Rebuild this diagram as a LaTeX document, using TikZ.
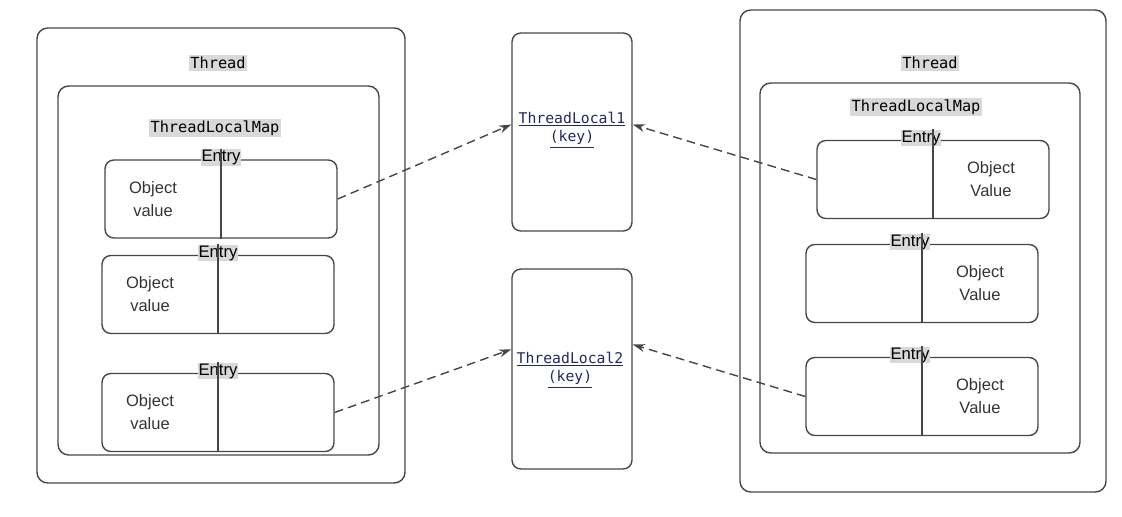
\documentclass[tikz,border=0pt]{standalone}
\usepackage{fontspec}
\setmainfont{Liberation Sans}
\newfontfamily\codefont{DejaVu Sans Mono}
\usetikzlibrary{arrows.meta}

\definecolor{keyblue}{RGB}{35,40,95}
\definecolor{linegray}{RGB}{70,70,70}

\begin{document}
\begin{tikzpicture}[x=0.02cm,y=-0.02cm,>={Stealth[length=7pt,width=4.5pt]},
outerbox/.style={draw=linegray,line width=0.8pt,rounded corners=6pt,inner sep=0pt},
entrybox/.style={draw=linegray,line width=0.8pt,rounded corners=5pt,inner sep=0pt,minimum width=4.64cm,minimum height=1.56cm},
keybox/.style={draw=linegray,line width=0.8pt,rounded corners=5pt,inner sep=0pt,minimum width=2.4cm},
codelabel/.style={fill=gray!30,inner sep=1pt,font=\codefont\fontsize{8.7}{10}\selectfont},
entrylabel/.style={fill=gray!30,inner sep=0.5pt,font=\fontsize{9.5}{11}\selectfont},
objtext/.style={align=center,text=black!80,font=\fontsize{9.4}{13}\selectfont},
keytext/.style={align=center,text=keyblue,font=\codefont\fontsize{8.4}{10.5}\selectfont},
refline/.style={->,draw=linegray,line width=0.8pt,dash pattern=on 5pt off 3pt}]
\useasboundingbox (0,0) rectangle (1122,517);

% left thread
\node[outerbox,minimum width=7.36cm,minimum height=9.1cm](lthread) at (221,255.5){};
\node[codelabel](lthreadtxt) at (218,63){Thread};
\node[outerbox,minimum width=6.42cm,minimum height=7.38cm](lmap) at (218.5,270.5){};
\node[codelabel](lmaptxt) at (215,128){ThreadLocalMap};

% right thread
\node[outerbox,minimum width=7.32cm,minimum height=9.64cm](rthread) at (923,251){};
\node[codelabel](rthreadtxt) at (930,63){Thread};
\node[outerbox,minimum width=6.4cm,minimum height=7.4cm](rmap) at (920,268){};
\node[codelabel](rmaptxt) at (916,107){ThreadLocalMap};

% entries
\foreach \name/\x/\y/\shift/\lshift/\txt in {le1/221/199/-1.36/0/value,le2/218/294.5/-1.36/0/value,le3/218/412.5/-1.36/0/value,
re1/933/179.5/1.16/-0.24/Value,re2/922/283.5/1.16/-0.24/Value,re3/922/396.5/1.16/-0.24/Value}{
\node[entrybox](\name) at (\x,\y){};
\node[entrylabel](\name lbl) at ([xshift=\lshift cm,yshift=1pt]\name.north){Entry};
\draw[linegray,line width=0.8pt](\name lbl.north -| \name.center)--(\name.south);
\node[objtext](\name txt) at ([xshift=\shift cm]\name.center){Object\\\txt};
}

% keys
\node[keybox,minimum height=3.96cm](tl1) at (572,132){};
\node[keytext](tl1txt) at (572,130){\underline{ThreadLocal1}\\\underline{(key)}};
\node[keybox,minimum height=4cm](tl2) at (572,369){};
\node[keytext](tl2txt) at (570,370){\underline{ThreadLocal2}\\\underline{(key)}};

% references
\draw[refline](le1.east)--(tl1.173);
\draw[refline](re1.west)--(tl1.7);
\draw[refline](le3.east)--(tl2.162);
\draw[refline](re3.west)--(tl2.22);
\end{tikzpicture}
\end{document}
